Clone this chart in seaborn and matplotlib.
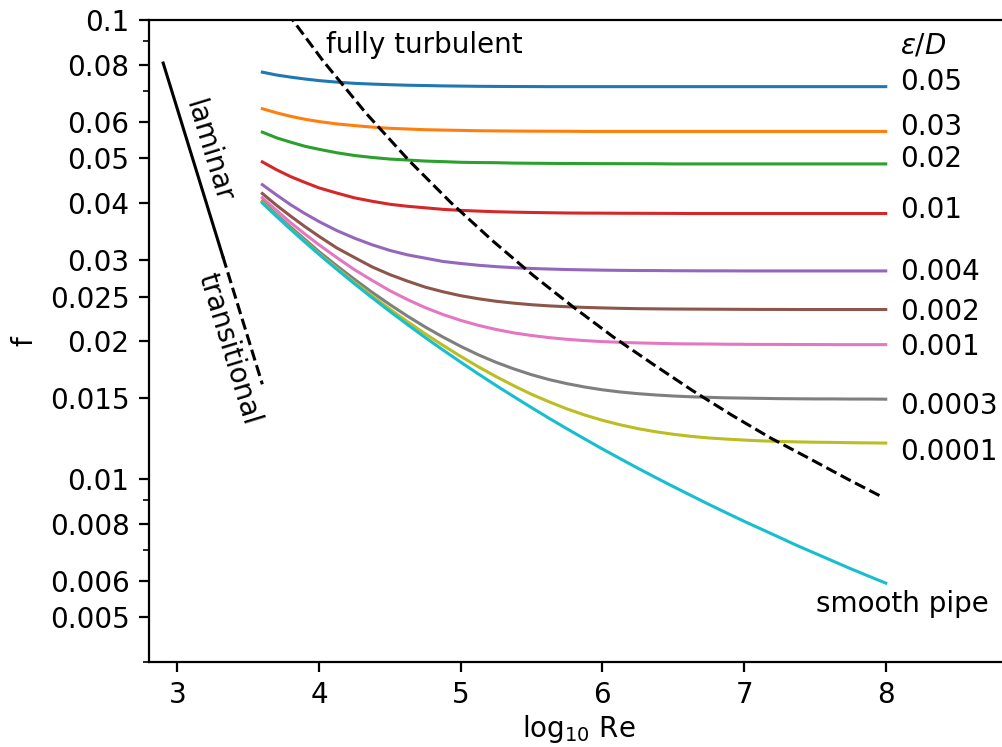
import numpy as np
import pandas as pd
import matplotlib
matplotlib.use("Agg")
import matplotlib.pyplot as plt
from matplotlib.ticker import NullFormatter
import seaborn as sns

# log10 Re grid the curves were read at
log_re = [3.6, 3.7, 3.8, 3.9, 4.0,
          4.125, 4.25, 4.375, 4.5, 4.625, 4.75, 4.875, 5.0,
          5.125, 5.25, 5.375, 5.5, 5.625, 5.75, 5.875, 6.0,
          6.125, 6.25, 6.375, 6.5, 6.625, 6.75, 6.875, 7.0,
          7.125, 7.25, 7.375, 7.5, 7.625, 7.75, 7.875, 8.0]

roughness = ["0.05", "0.03", "0.02", "0.01", "0.004", "0.002",
             "0.001", "0.0003", "0.0001", "smooth"]

f_005 = [0.0770, 0.0759, 0.0751, 0.0744, 0.0738,
         0.07325, 0.0728, 0.07253, 0.0723, 0.07211, 0.0720, 0.07187, 0.0718,
         0.07172, 0.07168, 0.07165, 0.07163, 0.0716, 0.0716, 0.0716, 0.0716,
         0.0716, 0.0716, 0.0716, 0.0716, 0.0716, 0.0716, 0.0716, 0.0716,
         0.0716, 0.0716, 0.0716, 0.0716, 0.0716, 0.0716, 0.0716, 0.0716]
f_003 = [0.0641, 0.0628, 0.0617, 0.0608, 0.0601,
         0.0594, 0.0589, 0.05845, 0.0581, 0.0579, 0.0577, 0.05759, 0.0575,
         0.0574, 0.05735, 0.05731, 0.05728, 0.05726, 0.05725, 0.0572, 0.0572,
         0.0572, 0.0572, 0.0572, 0.0572, 0.0572, 0.0572, 0.0572, 0.0572,
         0.0572, 0.0572, 0.0572, 0.0572, 0.0572, 0.0572, 0.0572, 0.0572]
f_002 = [0.0570, 0.0554, 0.0542, 0.0531, 0.0523,
         0.0514, 0.0507, 0.0502, 0.0498, 0.04956, 0.0493, 0.04916, 0.0490,
         0.04893, 0.0489, 0.0488, 0.04876, 0.04873, 0.0487, 0.04869, 0.04867,
         0.04866, 0.04865, 0.04864, 0.0486, 0.0486, 0.0486, 0.0486, 0.0486,
         0.0486, 0.0486, 0.0486, 0.0486, 0.0486, 0.0486, 0.0486, 0.0486]
f_001 = [0.0491, 0.0472, 0.0456, 0.0443, 0.0431,
         0.0420, 0.0410, 0.0403, 0.0397, 0.0393, 0.0390, 0.0387, 0.0385,
         0.03836, 0.03824, 0.03816, 0.0381, 0.03805, 0.0380, 0.03798, 0.03797,
         0.03795, 0.03794, 0.03793, 0.03792, 0.0379, 0.0379, 0.0379, 0.0379,
         0.0379, 0.0379, 0.0379, 0.0379, 0.0379, 0.0379, 0.0379, 0.0379]
f_0004 = [0.0438, 0.0416, 0.0396, 0.0379, 0.0364,
          0.0348, 0.0335, 0.0324, 0.0315, 0.0308, 0.0303, 0.0298, 0.0295,
          0.02924, 0.02904, 0.02889, 0.02877, 0.02869, 0.02862, 0.02857, 0.02853,
          0.0285, 0.02848, 0.02847, 0.02845, 0.02844, 0.02843, 0.02843, 0.02842,
          0.02842, 0.02842, 0.02842, 0.02842, 0.02842, 0.02842, 0.02842, 0.02842]
f_0002 = [0.0419, 0.0395, 0.0374, 0.0355, 0.0338,
          0.0319, 0.0304, 0.0290, 0.0279, 0.0270, 0.0262, 0.0256, 0.0251,
          0.02472, 0.02441, 0.02418, 0.02399, 0.02385, 0.02375, 0.02367, 0.02361,
          0.02356, 0.02352, 0.0235, 0.02348, 0.02347, 0.02346, 0.02345, 0.02344,
          0.02343, 0.02343, 0.02342, 0.02342, 0.02342, 0.02342, 0.02342, 0.02342]
f_0001 = [0.0410, 0.0385, 0.0362, 0.0342, 0.0324,
          0.0304, 0.0286, 0.0271, 0.02574, 0.02461, 0.02364, 0.02284, 0.02218,
          0.02163, 0.02119, 0.02083, 0.02056, 0.02034, 0.02017, 0.02004, 0.01994,
          0.01987, 0.01981, 0.01977, 0.01973, 0.01971, 0.0197, 0.01968, 0.01967,
          0.01966, 0.01966, 0.01965, 0.01965, 0.01964, 0.01964, 0.01964, 0.01964]
f_00003 = [0.0403, 0.0377, 0.0354, 0.0333, 0.0313,
           0.02917, 0.02725, 0.02553, 0.02401, 0.02265, 0.02145, 0.0204, 0.01947,
           0.01866, 0.01797, 0.01739, 0.01689, 0.01648, 0.01615, 0.01588, 0.01566,
           0.01549, 0.01536, 0.01526, 0.01518, 0.01512, 0.01508, 0.01504, 0.01502,
           0.0150, 0.01498, 0.01497, 0.01496, 0.01496, 0.01495, 0.01495, 0.01494]
f_00001 = [0.0401, 0.03748, 0.0351, 0.0330, 0.0310,
           0.02883, 0.02685, 0.02507, 0.02347, 0.02203, 0.02073, 0.01957, 0.01852,
           0.01757, 0.01673, 0.01598, 0.01531, 0.01474, 0.01423, 0.0138, 0.01344,
           0.01314, 0.01289, 0.01269, 0.01253, 0.0124, 0.0123, 0.01223, 0.01217,
           0.01212, 0.01209, 0.01206, 0.01204, 0.01203, 0.01201, 0.0120, 0.01199]
f_smooth = [0.03995, 0.03736, 0.0350, 0.03285, 0.03088,
            0.02866, 0.02665, 0.02484, 0.0232, 0.02171, 0.02035, 0.01912, 0.01799,
            0.01695, 0.0160, 0.01513, 0.01432, 0.01357, 0.01288, 0.01224, 0.01164,
            0.01109, 0.01057, 0.01009, 0.00964, 0.00922, 0.00882, 0.00845, 0.0081,
            0.00778, 0.00747, 0.00717, 0.0069, 0.00664, 0.00639, 0.00616, 0.00594]

# laminar / transitional line
lam_x = [2.9, 3.322]
lam_f = [0.0806, 0.0305]
trans_x = [3.322, 3.6]
trans_f = [0.0305, 0.0161]

# fully turbulent boundary
turb_x = [3.710, 3.814, 4.027, 4.335, 4.636, 4.932, 5.223, 5.511, 5.796,
          6.078, 6.358, 6.636, 6.912, 7.187, 7.460, 7.733, 7.96]
turb_f = [0.1111, 0.1, 0.0816, 0.0625, 0.0494, 0.0400, 0.0331, 0.0278, 0.0237,
          0.0204, 0.0178, 0.0156, 0.0138, 0.0123, 0.0111, 0.0100, 0.0092]

# where the eps/D labels sit (baseline f)
label_f = [0.0704, 0.0562, 0.0479, 0.0370, 0.0272, 0.0222, 0.0186, 0.0139, 0.0110]

ytick_vals = [0.005, 0.006, 0.008, 0.01, 0.015, 0.02, 0.025, 0.03, 0.04, 0.05, 0.06, 0.08, 0.1]
ytick_labels = ["0.005", "0.006", "0.008", "0.01", "0.015", "0.02", "0.025",
                "0.03", "0.04", "0.05", "0.06", "0.08", "0.1"]

curves = [f_005, f_003, f_002, f_001, f_0004, f_0002, f_0001, f_00003, f_00001, f_smooth]
df = pd.concat([pd.DataFrame({"logRe": log_re, "f": c, "eps": name})
                for name, c in zip(roughness, curves)], ignore_index=True)

lw = 1.1
fig = plt.figure(figsize=(5.01, 3.735), dpi=200)
ax = fig.add_axes([0.1487, 0.1138, 0.8583, 0.8594])

sns.lineplot(data=df, x="logRe", y="f", hue="eps", hue_order=roughness,
             palette=sns.color_palette("tab10", 10), legend=False, ax=ax,
             estimator=None, sort=False, linewidth=lw)
sns.lineplot(x=lam_x, y=lam_f, color="k", ax=ax, linewidth=lw)
sns.lineplot(x=trans_x, y=trans_f, color="k", linestyle="--", ax=ax, linewidth=lw)
sns.lineplot(x=turb_x, y=turb_f, color="k", linestyle="--", ax=ax, sort=False, linewidth=lw)

ax.set_yscale("log")
ax.set_xlim(2.8, 8.87)
ax.set_ylim(0.004, 0.1)
ax.set_yticks(ytick_vals)
ax.set_yticklabels(ytick_labels)
ax.yaxis.set_minor_formatter(NullFormatter())
ax.set_xticks([3, 4, 5, 6, 7, 8])
ax.set_xlabel(r"log$_{10}$ Re", labelpad=1.2)
ax.set_ylabel("f")

for name, fy in zip(roughness[:-1], label_f):
    ax.text(8.1, fy, name, ha="left", va="baseline")
ax.text(8.1, 0.0846, r"$\epsilon/D$", ha="left", va="baseline")
ax.text(4.05, 0.0846, "fully turbulent", ha="left", va="baseline")
ax.text(8.12, 0.00513, "smooth pipe", ha="center", va="baseline")
ax.text(3.218, 0.0519, "laminar", rotation=-73, ha="center", va="center")
ax.text(3.364, 0.0192, "transitional", rotation=-73, ha="center", va="center")

fig.savefig("out.png", dpi=200)
